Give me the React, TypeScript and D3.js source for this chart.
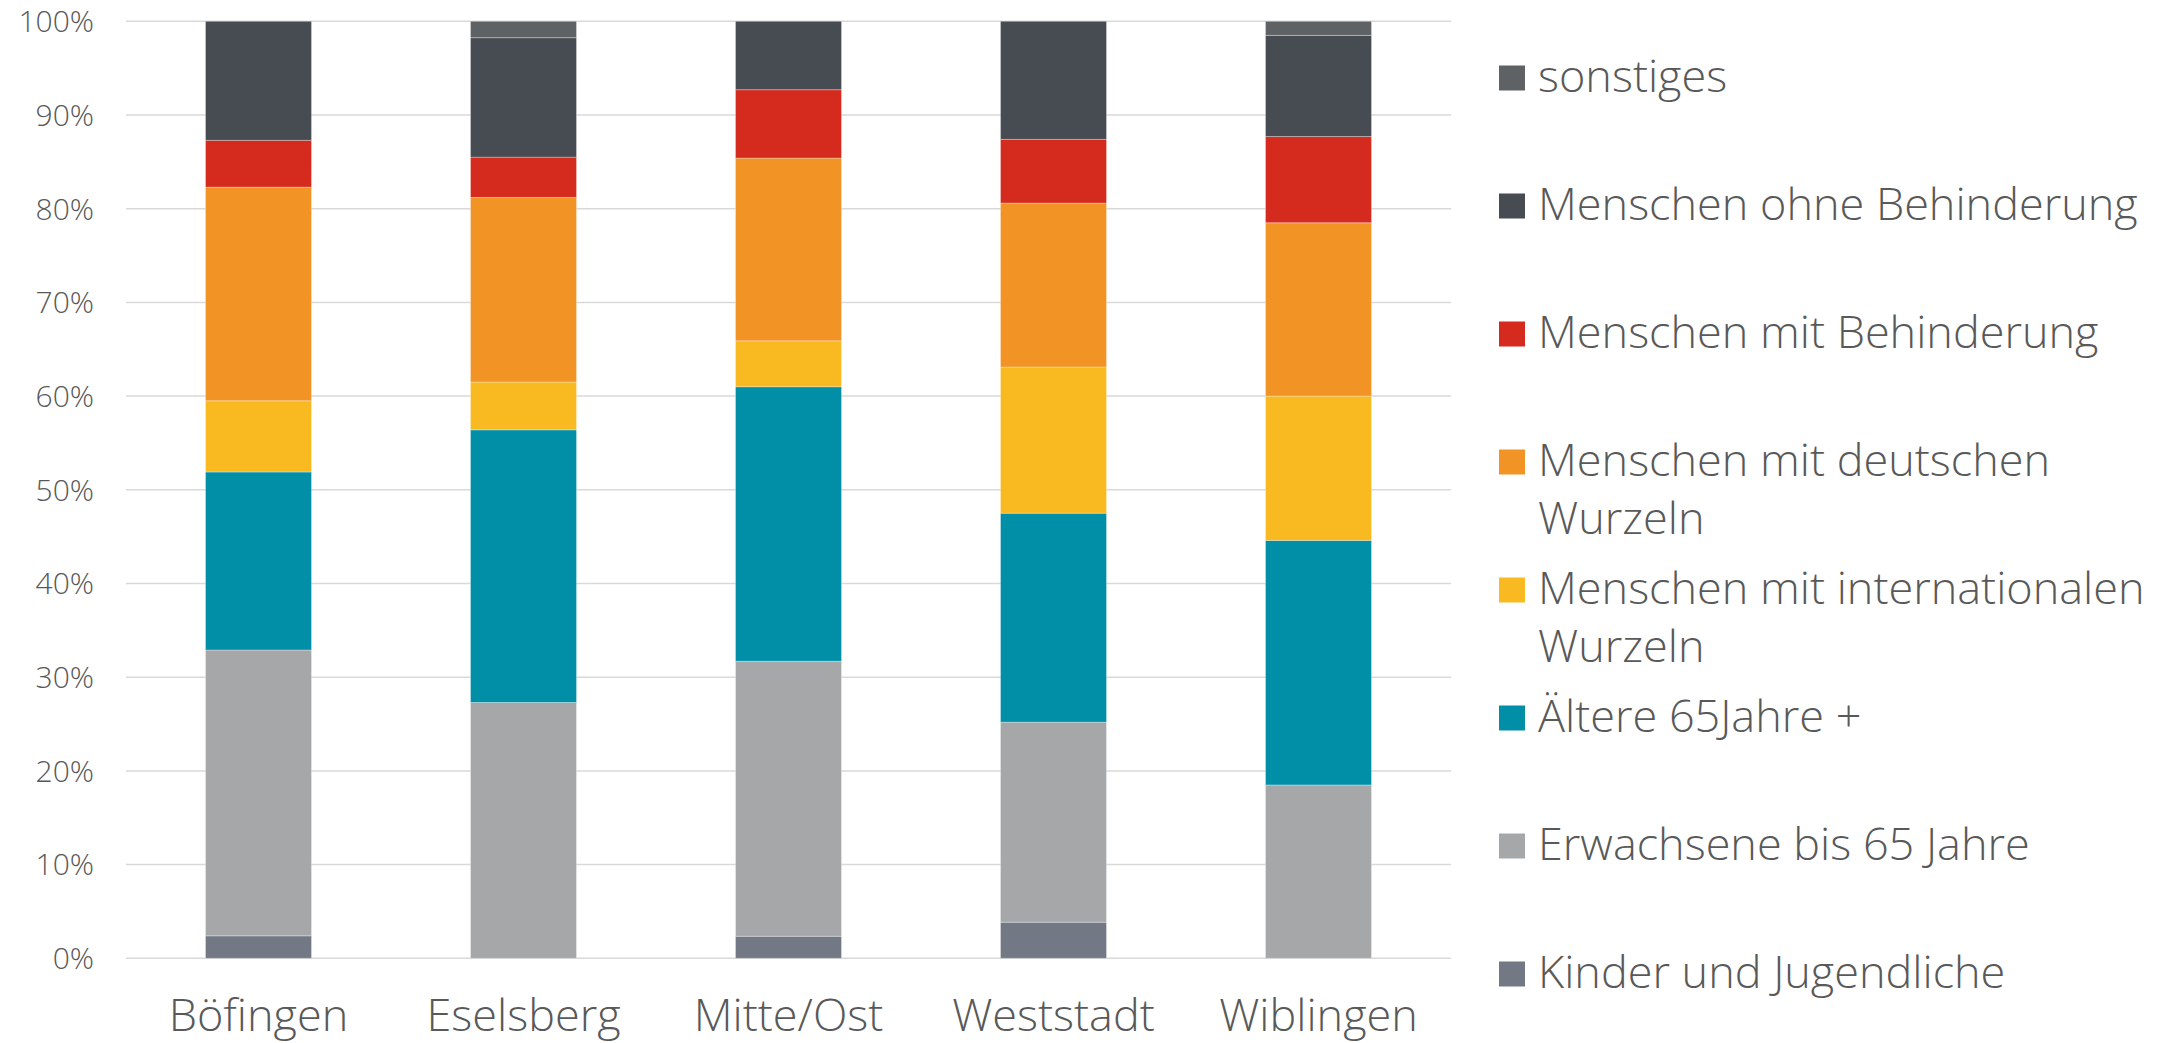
import React from "react";
import * as d3 from "d3";

const categories = ["Böfingen", "Eselsberg", "Mitte/Ost", "Weststadt", "Wiblingen"];

// values in percent, stacked bottom to top
const kinder = [2.4, 0, 2.35, 3.85, 0];
const erwachsene = [30.5, 27.3, 29.35, 21.35, 18.5];
const aeltere = [19.0, 29.1, 29.3, 22.3, 26.1];
const international = [7.6, 5.1, 4.9, 15.6, 15.4];
const deutsch = [22.8, 19.7, 19.5, 17.5, 18.5];
const mitBehinderung = [5.0, 4.3, 7.3, 6.8, 9.2];
const ohneBehinderung = [12.7, 12.75, 7.3, 12.6, 10.8];
const sonstiges = [0, 1.75, 0, 0, 1.5];

const seriesKeys = ["kinder", "erwachsene", "aeltere", "international", "deutsch", "mit", "ohne", "sonst"];
const seriesLabels = [
  ["Kinder und Jugendliche"],
  ["Erwachsene bis 65 Jahre"],
  ["Ältere 65Jahre +"],
  ["Menschen mit internationalen", "Wurzeln"],
  ["Menschen mit deutschen", "Wurzeln"],
  ["Menschen mit Behinderung"],
  ["Menschen ohne Behinderung"],
  ["sonstiges"],
];
const seriesColors = ["#737984", "#a6a7a9", "#008fa7", "#f9b921", "#f29325", "#d52b1e", "#474b52", "#5f6264"];
const seriesValues = [kinder, erwachsene, aeltere, international, deutsch, mitBehinderung, ohneBehinderung, sonstiges];

const yTicks = [0, 10, 20, 30, 40, 50, 60, 70, 80, 90, 100];

const W = 2175;
const H = 1043;
const FONT = "'Open Sans', 'DejaVu Sans', sans-serif";
const TEXT = "#595959";

export default function App() {
  const rows = categories.map((c, i) => {
    const r: any = { cat: c };
    seriesKeys.forEach((k, j) => (r[k] = seriesValues[j][i]));
    return r;
  });
  const stacked = d3.stack<any>().keys(seriesKeys)(rows);

  const plotLeft = 126;
  const plotRight = 1451;
  const x = d3.scaleBand<string>().domain(categories).range([plotLeft, plotRight]).paddingInner(0.6).paddingOuter(0.3);
  const y = d3.scaleLinear().domain([0, 100]).range([958.3, 21.3]);

  const legendX = 1499;
  const legendTextX = 1538;
  const legendTop = 91.5;
  const legendStep = 128;
  const lineH = 58;
  const legendOrder = seriesKeys.map((_, i) => i).reverse();

  return (
    <svg width={W} height={H} style={{ position: "absolute", left: 0, top: 0, background: "#fff" }}>
      <rect x={0} y={0} width={W} height={H} fill="#fff" />
      {yTicks.map((t) => (
        <g key={t}>
          <line x1={plotLeft} x2={plotRight} y1={y(t)} y2={y(t)} stroke="#d9d9d9" strokeWidth={1.5} />
          <text
            x={94}
            y={y(t)}
            dy="0.36em"
            textAnchor="end"
            fontFamily={FONT}
            fontWeight={300}
            fontSize={30}
            fill={TEXT}
          >
            {t}%
          </text>
        </g>
      ))}
      {stacked.map((s, j) => (
        <g key={s.key} fill={seriesColors[j]}>
          {s.map((d, i) =>
            d[1] - d[0] > 0 ? (
              <rect
                key={i}
                x={x(categories[i])}
                width={x.bandwidth()}
                y={y(d[1])}
                height={y(d[0]) - y(d[1])}
                stroke="rgba(255,255,255,0.3)"
                strokeWidth={1}
              />
            ) : null
          )}
        </g>
      ))}
      {categories.map((c) => (
        <text
          key={c}
          x={(x(c) as number) + x.bandwidth() / 2}
          y={1031}
          textAnchor="middle"
          fontFamily={FONT}
          fontWeight={300}
          fontSize={45}
          fill={TEXT}
        >
          {c}
        </text>
      ))}
      {legendOrder.map((j, idx) => {
        const base = legendTop + idx * legendStep;
        return (
          <g key={seriesKeys[j]}>
            <rect x={legendX} y={base - 26} width={26} height={25} fill={seriesColors[j]} />
            {seriesLabels[j].map((line, li) => (
              <text
                key={li}
                x={legendTextX}
                y={base + li * lineH}
                fontFamily={FONT}
                fontWeight={300}
                fontSize={45}
                fill={TEXT}
              >
                {line}
              </text>
            ))}
          </g>
        );
      })}
    </svg>
  );
}
